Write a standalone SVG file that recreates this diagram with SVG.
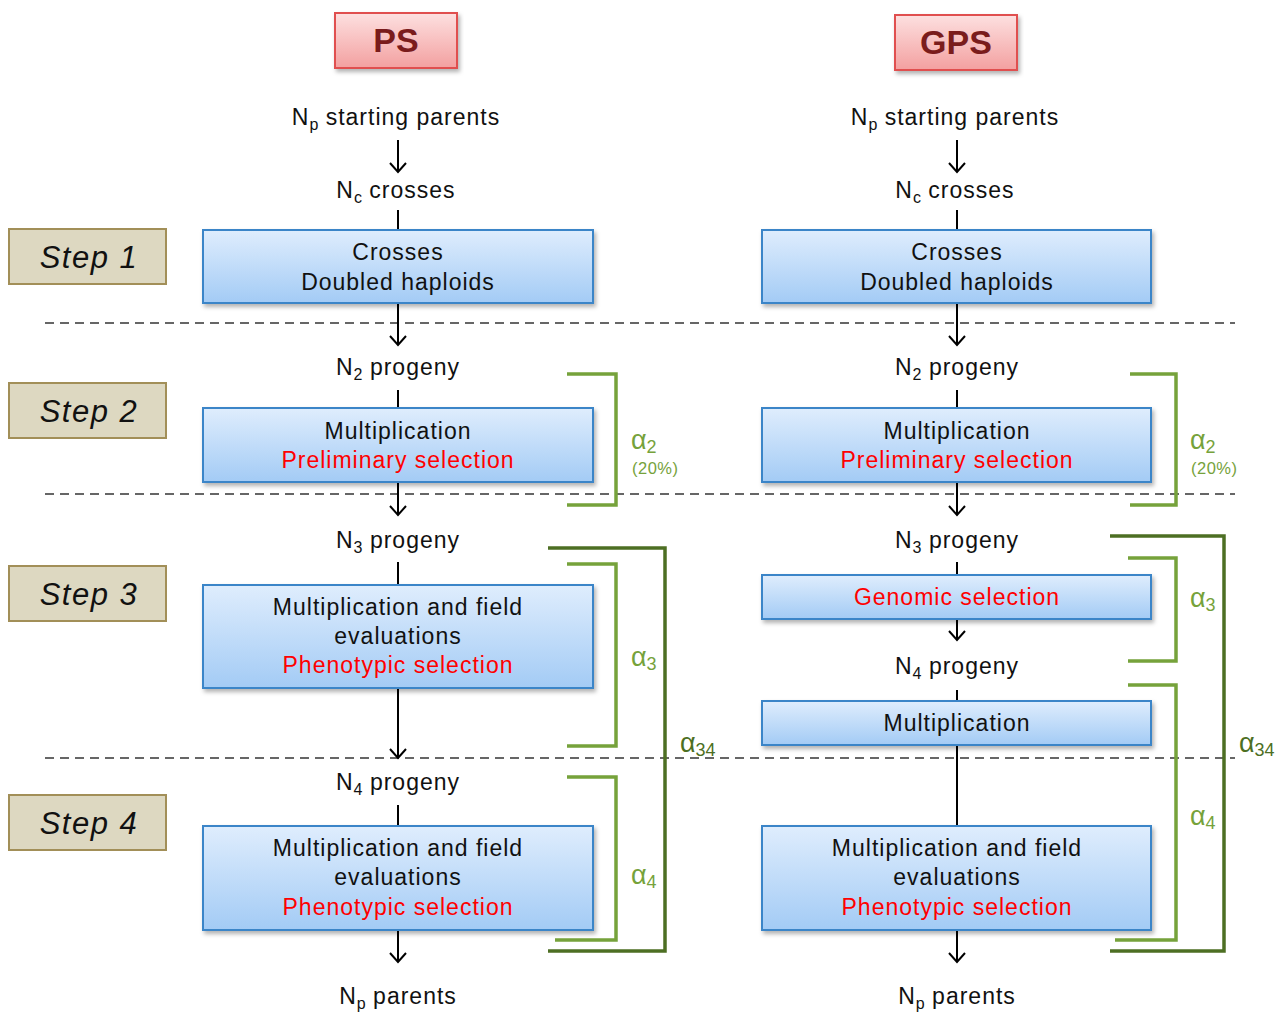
<svg xmlns="http://www.w3.org/2000/svg" width="1275" height="1012" viewBox="0 0 1275 1012">
<defs>
<linearGradient id="gBlue" x1="0" y1="0" x2="0" y2="1"><stop offset="0" stop-color="#dfedfd"/><stop offset="1" stop-color="#a3cbf5"/></linearGradient>
<linearGradient id="gRed" x1="0" y1="0" x2="0" y2="1"><stop offset="0" stop-color="#fde0e0"/><stop offset="1" stop-color="#f3a0a0"/></linearGradient>
<filter id="sh" x="-5%" y="-10%" width="110%" height="130%"><feDropShadow dx="2" dy="3" stdDeviation="2" flood-color="#000" flood-opacity="0.3"/></filter>
<marker id="arr" viewBox="0 0 20 20" refX="18" refY="10" markerWidth="20" markerHeight="20" markerUnits="userSpaceOnUse" orient="auto"><polyline points="9,2 18,10 9,18" fill="none" stroke="#000" stroke-width="2"/></marker>
</defs>
<style>
text{font-family:"Liberation Sans",Arial,sans-serif;}
.t{font-size:23px;letter-spacing:1px;fill:#111;text-anchor:middle;}
.r{fill:#f00;}
.sub{font-size:16px;letter-spacing:0;}
.box{fill:url(#gBlue);stroke:#3a85c8;stroke-width:2;filter:url(#sh);}
.hdr{fill:url(#gRed);stroke:#e0504f;stroke-width:2;filter:url(#sh);}
.hdrt{font-size:34px;font-weight:bold;fill:#7a1c1c;text-anchor:middle;}
.step{fill:#ddd8c1;stroke:#a28f58;stroke-width:2;}
.stept{font-size:31px;font-style:italic;letter-spacing:1.5px;fill:#111;text-anchor:middle;}
.ln{stroke:#000;stroke-width:2;fill:none;}
.dash{stroke:#666;stroke-width:2;stroke-dasharray:9,6;fill:none;}
.br{stroke:#76a23b;stroke-width:3.5;fill:none;}
.br2{stroke:#4d6f23;stroke-width:3.5;fill:none;}
.al{font-size:27px;fill:#76a23b;}
.al2{font-size:27px;fill:#4d6f23;}
.pc{font-size:16.5px;fill:#76a23b;letter-spacing:0.5px;}
.as{font-size:18px;}
</style>

<g id="dashes">
<line class="dash" x1="45" y1="323" x2="1235" y2="323"/>
<line class="dash" x1="45" y1="494" x2="1235" y2="494"/>
<line class="dash" x1="45" y1="758" x2="1235" y2="758"/>
</g>

<g id="steps">
<g id="step1"><rect class="step" x="9" y="229" width="157" height="55"/><text class="stept" x="89" y="268">Step 1</text></g>
<g id="step2"><rect class="step" x="9" y="383" width="157" height="55"/><text class="stept" x="89" y="422">Step 2</text></g>
<g id="step3"><rect class="step" x="9" y="566" width="157" height="55"/><text class="stept" x="89" y="605">Step 3</text></g>
<g id="step4"><rect class="step" x="9" y="795" width="157" height="55"/><text class="stept" x="89" y="834">Step 4</text></g>
</g>

<g id="connectors">
<line class="ln" x1="398" y1="140" x2="398" y2="172" marker-end="url(#arr)"/>
<line class="ln" x1="398" y1="210" x2="398" y2="230"/>
<line class="ln" x1="398" y1="303" x2="398" y2="345" marker-end="url(#arr)"/>
<line class="ln" x1="398" y1="390" x2="398" y2="408"/>
<line class="ln" x1="398" y1="482" x2="398" y2="515" marker-end="url(#arr)"/>
<line class="ln" x1="398" y1="562" x2="398" y2="585"/>
<line class="ln" x1="398" y1="688" x2="398" y2="758" marker-end="url(#arr)"/>
<line class="ln" x1="398" y1="805" x2="398" y2="826"/>
<line class="ln" x1="398" y1="930" x2="398" y2="962" marker-end="url(#arr)"/>

<line class="ln" x1="957" y1="140" x2="957" y2="172" marker-end="url(#arr)"/>
<line class="ln" x1="957" y1="210" x2="957" y2="230"/>
<line class="ln" x1="957" y1="303" x2="957" y2="345" marker-end="url(#arr)"/>
<line class="ln" x1="957" y1="390" x2="957" y2="408"/>
<line class="ln" x1="957" y1="482" x2="957" y2="515" marker-end="url(#arr)"/>
<line class="ln" x1="957" y1="562" x2="957" y2="575"/>
<line class="ln" x1="957" y1="619" x2="957" y2="640" marker-end="url(#arr)"/>
<line class="ln" x1="957" y1="690" x2="957" y2="701"/>
<line class="ln" x1="957" y1="745" x2="957" y2="826"/>
<line class="ln" x1="957" y1="930" x2="957" y2="962" marker-end="url(#arr)"/>
</g>

<g id="brackets">
<polyline class="br" points="567,374 616,374 616,505 567,505"/>
<polyline class="br" points="567,564 616,564 616,746 567,746"/>
<polyline class="br" points="567,777 616,777 616,940 555,940"/>
<polyline class="br2" points="548,548 665,548 665,951 548,951"/>
<polyline class="br" points="1130,374 1176,374 1176,505 1130,505"/>
<polyline class="br" points="1128,558 1176,558 1176,661 1128,661"/>
<polyline class="br" points="1128,685 1176,685 1176,940 1115,940"/>
<polyline class="br2" points="1110,536 1224,536 1224,951 1110,951"/>
<text class="al" x="631" y="449">α<tspan class="as" dy="4">2</tspan></text>
<text class="pc" x="632" y="474">(20%)</text>
<text class="al" x="631" y="666">α<tspan class="as" dy="4">3</tspan></text>
<text class="al" x="631" y="884">α<tspan class="as" dy="4">4</tspan></text>
<text class="al2" x="680" y="752">α<tspan class="as" dy="4">34</tspan></text>
<text class="al" x="1190" y="449">α<tspan class="as" dy="4">2</tspan></text>
<text class="pc" x="1191" y="474">(20%)</text>
<text class="al" x="1190" y="607">α<tspan class="as" dy="4">3</tspan></text>
<text class="al" x="1190" y="825">α<tspan class="as" dy="4">4</tspan></text>
<text class="al2" x="1239" y="752">α<tspan class="as" dy="4">34</tspan></text>
</g>

<g id="PS"><rect class="hdr" x="335" y="13" width="122" height="55"/><text class="hdrt" x="396" y="52">PS</text></g>
<g id="GPS"><rect class="hdr" x="895" y="15" width="122" height="55"/><text class="hdrt" x="956" y="54">GPS</text></g>

<g id="ps-labels">
<text class="t" x="396" y="125">N<tspan class="sub" dy="5">p</tspan><tspan dy="-5"> starting parents</tspan></text>
<text class="t" x="396" y="198">N<tspan class="sub" dy="5">c</tspan><tspan dy="-5"> crosses</tspan></text>
<text class="t" x="398" y="375">N<tspan class="sub" dy="5">2</tspan><tspan dy="-5"> progeny</tspan></text>
<text class="t" x="398" y="548">N<tspan class="sub" dy="5">3</tspan><tspan dy="-5"> progeny</tspan></text>
<text class="t" x="398" y="790">N<tspan class="sub" dy="5">4</tspan><tspan dy="-5"> progeny</tspan></text>
<text class="t" x="398" y="1004">N<tspan class="sub" dy="5">p</tspan><tspan dy="-5"> parents</tspan></text>
</g>
<g id="ps-box1"><rect class="box" x="203" y="230" width="390" height="73"/><text class="t" x="398" y="260">Crosses</text><text class="t" x="398" y="290">Doubled haploids</text></g>
<g id="ps-box2"><rect class="box" x="203" y="408" width="390" height="74"/><text class="t" x="398" y="439">Multiplication</text><text class="t r" x="398" y="468">Preliminary selection</text></g>
<g id="ps-box3"><rect class="box" x="203" y="585" width="390" height="103"/><text class="t" x="398" y="615">Multiplication and field</text><text class="t" x="398" y="644">evaluations</text><text class="t r" x="398" y="673">Phenotypic selection</text></g>
<g id="ps-box4"><rect class="box" x="203" y="826" width="390" height="104"/><text class="t" x="398" y="856">Multiplication and field</text><text class="t" x="398" y="885">evaluations</text><text class="t r" x="398" y="915">Phenotypic selection</text></g>

<g id="gps-labels">
<text class="t" x="955" y="125">N<tspan class="sub" dy="5">p</tspan><tspan dy="-5"> starting parents</tspan></text>
<text class="t" x="955" y="198">N<tspan class="sub" dy="5">c</tspan><tspan dy="-5"> crosses</tspan></text>
<text class="t" x="957" y="375">N<tspan class="sub" dy="5">2</tspan><tspan dy="-5"> progeny</tspan></text>
<text class="t" x="957" y="548">N<tspan class="sub" dy="5">3</tspan><tspan dy="-5"> progeny</tspan></text>
<text class="t" x="957" y="674">N<tspan class="sub" dy="5">4</tspan><tspan dy="-5"> progeny</tspan></text>
<text class="t" x="957" y="1004">N<tspan class="sub" dy="5">p</tspan><tspan dy="-5"> parents</tspan></text>
</g>
<g id="gps-box1"><rect class="box" x="762" y="230" width="389" height="73"/><text class="t" x="957" y="260">Crosses</text><text class="t" x="957" y="290">Doubled haploids</text></g>
<g id="gps-box2"><rect class="box" x="762" y="408" width="389" height="74"/><text class="t" x="957" y="439">Multiplication</text><text class="t r" x="957" y="468">Preliminary selection</text></g>
<g id="gps-box3"><rect class="box" x="762" y="575" width="389" height="44"/><text class="t r" x="957" y="605">Genomic selection</text></g>
<g id="gps-box4"><rect class="box" x="762" y="701" width="389" height="44"/><text class="t" x="957" y="731">Multiplication</text></g>
<g id="gps-box5"><rect class="box" x="762" y="826" width="389" height="104"/><text class="t" x="957" y="856">Multiplication and field</text><text class="t" x="957" y="885">evaluations</text><text class="t r" x="957" y="915">Phenotypic selection</text></g>
</svg>
